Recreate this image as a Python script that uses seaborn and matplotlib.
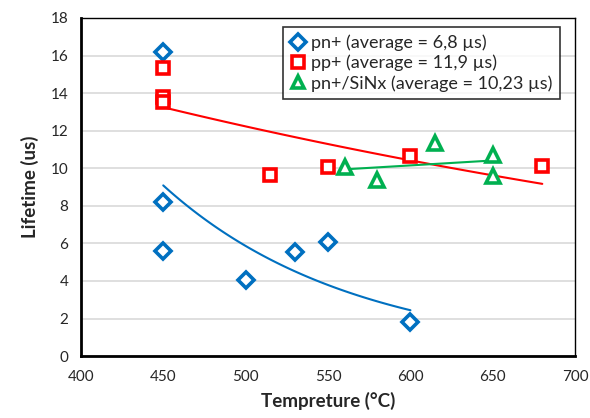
import numpy as np
import pandas as pd
import matplotlib
matplotlib.use('Agg')
import matplotlib.pyplot as plt
from matplotlib.ticker import MultipleLocator
import seaborn as sns

# Data
pn_temp = [450, 450, 450, 500, 530, 550, 600]
pn_life = [16.2, 8.2, 5.6, 4.05, 5.55, 6.1, 1.8]

pp_temp = [450, 450, 450, 515, 550, 600, 680]
pp_life = [15.35, 13.8, 13.55, 9.65, 10.05, 10.65, 10.1]

sinx_temp = [560, 580, 615, 650, 650]
sinx_life = [10.05, 9.35, 11.35, 10.7, 9.6]

labels = ['pn+ (average = 6,8 µs)', 'pp+ (average = 11,9 µs)', 'pn+/SiNx (average = 10,23 µs)']
colors = ['#0070C0', '#FF0000', '#00B050']
markers = ['D', 's', '^']

sns.set_style('white')
plt.rcParams['font.family'] = ['Lato', 'DejaVu Sans']

df = pd.concat([
    pd.DataFrame({'temp': pn_temp, 'life': pn_life, 'group': labels[0]}),
    pd.DataFrame({'temp': pp_temp, 'life': pp_life, 'group': labels[1]}),
    pd.DataFrame({'temp': sinx_temp, 'life': sinx_life, 'group': labels[2]}),
])

fig = plt.figure(figsize=(5.9, 4.18), dpi=100)
ax = fig.add_axes([0.137, 0.148, 0.838, 0.809])

# trendlines (exponential for pn+ and pp+, linear for SiNx)
def exp_trend(x, y):
    b, a = np.polyfit(x, np.log(y), 1)
    xs = np.linspace(min(x), max(x), 100)
    return xs, np.exp(a + b * xs)

xs, ys = exp_trend(pn_temp, pn_life)
sns.lineplot(x=xs, y=ys, color=colors[0], lw=1.5, ax=ax)
xs, ys = exp_trend(pp_temp, pp_life)
sns.lineplot(x=xs, y=ys, color=colors[1], lw=1.5, ax=ax)
k, c = np.polyfit(sinx_temp, sinx_life, 1)
xs = np.array([min(sinx_temp), max(sinx_temp)])
sns.lineplot(x=xs, y=k * xs + c, color=colors[2], lw=1.5, ax=ax)

sizes = [8, 9, 10]
for lab, col, mk, ms in zip(labels, colors, markers, sizes):
    sub = df[df['group'] == lab]
    ax.plot(sub['temp'], sub['life'], ls='none', marker=mk, ms=ms,
            mfc='white', mec=col, mew=2.6, label=lab, zorder=5)

ax.set_xlim(400, 700)
ax.set_ylim(0, 18)
ax.xaxis.set_major_locator(MultipleLocator(50))
ax.xaxis.set_minor_locator(MultipleLocator(10))
ax.yaxis.set_major_locator(MultipleLocator(2))
ax.yaxis.set_minor_locator(MultipleLocator(0.5))
ax.yaxis.grid(True, color='#D9D9D9', lw=1.2)
ax.set_axisbelow(True)

ax.tick_params(which='both', direction='in', color='black', width=1.5)
ax.tick_params(which='major', length=5, labelsize=11, pad=9)
ax.tick_params(which='minor', length=3)
ax.tick_params(axis='x', pad=10)

for s in ['left', 'bottom']:
    ax.spines[s].set_linewidth(2)
    ax.spines[s].set_color('black')
for s in ['top', 'right']:
    ax.spines[s].set_linewidth(1)
    ax.spines[s].set_color('black')

ax.set_xlabel('Tempreture (°C)', fontsize=13.5, fontweight='bold', labelpad=6)
ax.set_ylabel('Lifetime (us)', fontsize=13.5, fontweight='bold', labelpad=8)

leg = ax.legend(loc='upper left', bbox_to_anchor=(0.409, 0.972), fontsize=13,
                frameon=True, fancybox=False, edgecolor='black', handlelength=0.9,
                handletextpad=0.25, borderpad=0.4, labelspacing=0.2, borderaxespad=0)
leg.get_frame().set_linewidth(1.2)
for h in leg.legend_handles:
    h.set_markersize(8)
    h.set_markeredgewidth(2.6)

plt.savefig('out.png', dpi=100)
